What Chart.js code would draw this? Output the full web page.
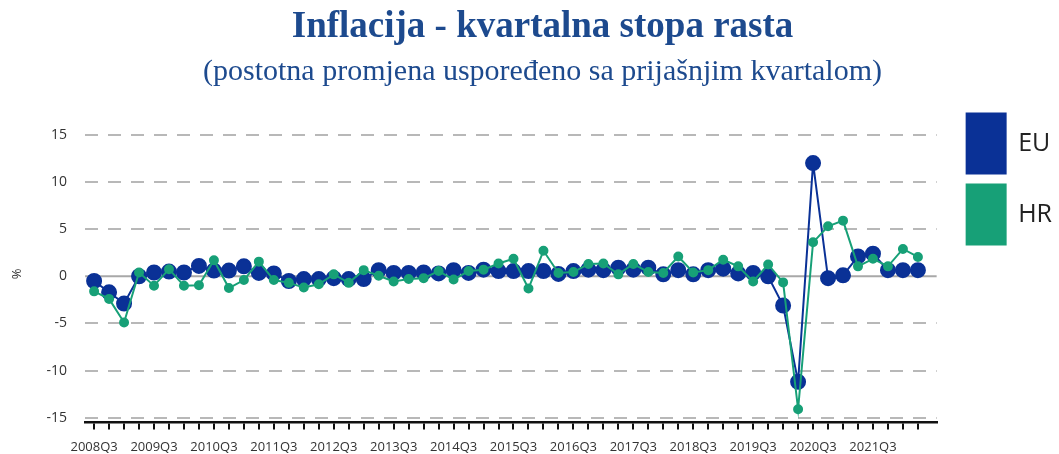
<!DOCTYPE html>
<html>
<head>
<meta charset="utf-8">
<script src="https://cdn.jsdelivr.net/npm/chart.js@4.4.1/dist/chart.umd.min.js"></script>
<style>
    body { margin: 0; background: #ffffff; }
</style>
</head>
<body>
<canvas id="chart" width="1059" height="454"></canvas>
<script>
"use strict"


const quarters =
[
    '2008Q3', '2008Q4', '2009Q1', '2009Q2', '2009Q3', '2009Q4', '2010Q1', '2010Q2',
    '2010Q3', '2010Q4', '2011Q1', '2011Q2', '2011Q3', '2011Q4', '2012Q1', '2012Q2',
    '2012Q3', '2012Q4', '2013Q1', '2013Q2', '2013Q3', '2013Q4', '2014Q1', '2014Q2',
    '2014Q3', '2014Q4', '2015Q1', '2015Q2', '2015Q3', '2015Q4', '2016Q1', '2016Q2',
    '2016Q3', '2016Q4', '2017Q1', '2017Q2', '2017Q3', '2017Q4', '2018Q1', '2018Q2',
    '2018Q3', '2018Q4', '2019Q1', '2019Q2', '2019Q3', '2019Q4', '2020Q1', '2020Q2',
    '2020Q3', '2020Q4', '2021Q1', '2021Q2', '2021Q3', '2021Q4', '2022Q1', '2022Q2'
];

const euValues =
[
    -0.5, -1.7, -2.9, 0.0, 0.4, 0.5, 0.4, 1.1,
    0.6, 0.6, 1.05, 0.35, 0.3, -0.5, -0.3, -0.3,
    -0.2, -0.3, -0.3, 0.65, 0.35, 0.35, 0.4, 0.3,
    0.65, 0.35, 0.7, 0.55, 0.55, 0.55, 0.55, 0.25,
    0.55, 0.7, 0.65, 0.9, 0.7, 0.9, 0.2, 0.65,
    0.2, 0.65, 0.8, 0.3, 0.35, 0.0, -3.1, -11.2,
    12.0, -0.2, 0.1, 2.1, 2.4, 0.65, 0.65, 0.65
];

const hrValues =
[
    -1.6, -2.4, -4.9, 0.4, -1.0, 0.75, -1.0, -0.95,
    1.7, -1.25, -0.4, 1.55, -0.4, -0.7, -1.2, -0.85,
    0.2, -0.7, 0.65, 0.05, -0.55, -0.3, -0.2, 0.55,
    -0.35, 0.55, 0.7, 1.35, 1.85, -1.3, 2.7, 0.35,
    0.45, 1.3, 1.35, 0.2, 1.3, 0.45, 0.35, 2.1,
    0.4, 0.65, 1.75, 1.05, -0.55, 1.25, -0.65, -14.1,
    3.6, 5.3, 5.9, 1.05, 1.85, 1.05, 2.9, 2.05
];

const yTicks = [-15, -10, -5, 0, 5, 10, 15];

const colors =
{
    eu: '#0a3196',
    hr: '#17a077',
    grid: '#b8b8b8',
    zero: '#a8a8a8',
    text: '#333333',
    title: '#1d4a8e'
};


// solid line at 0, the other y grid lines are dashed
const zeroLine =
{
    id: 'zeroLine',
    beforeDatasetsDraw(chart)
    {
        const { ctx, chartArea } = chart;
        const y = chart.scales.y.getPixelForValue(0);

        ctx.save();
        ctx.strokeStyle = colors.zero;
        ctx.lineWidth = 2;
        ctx.beginPath();
        ctx.moveTo(chartArea.left, y);
        ctx.lineTo(chartArea.right, y);
        ctx.stroke();
        ctx.restore();
    }
};


window.onload = () =>
{
    line();
}


function toPoints(values)
{
    return values.map((v, i) => ({ x: i, y: v }));
}


function line()
{
    const data =
    {
        datasets: [{
                    label: 'EU',
                    data: toPoints(euValues),
                    borderColor: colors.eu,
                    backgroundColor: colors.eu,
                    borderWidth: 2,
                    pointRadius: 7,
                    pointHoverRadius: 7,
                    tension: 0,
                    order: 1
                   },
                   {
                    label: 'HR',
                    data: toPoints(hrValues),
                    borderColor: colors.hr,
                    backgroundColor: colors.hr,
                    borderWidth: 2,
                    pointRadius: 4,
                    pointHoverRadius: 4,
                    tension: 0,
                    order: 0
                   }]
    };

    const config =
    {
        type: 'line',
        data: data,
        plugins: [zeroLine],
        options:
        {
            responsive: false,
            animation: false,
            devicePixelRatio: 1,
            layout: { padding: { left: 23, right: -3, bottom: -11, top: 0 } },
            scales:
            {
                x:
                {
                    type: 'linear',
                    min: -0.6,
                    max: 56.25,
                    afterBuildTicks: (scale) =>
                    {
                        scale.ticks = quarters.map((q, i) => ({ value: i }));
                    },
                    grid:
                    {
                        drawOnChartArea: false,
                        drawTicks: true,
                        tickLength: 7,
                        color: '#111111',
                        lineWidth: 2
                    },
                    border: { display: true, color: '#111111', width: 2.5 },
                    ticks:
                    {
                        autoSkip: false,
                        maxRotation: 0,
                        minRotation: 0,
                        padding: 10,
                        color: colors.text,
                        font: { family: 'Open Sans', size: 13 },
                        callback: (value) => value % 4 === 0 ? quarters[value] : ''
                    }
                },
                y:
                {
                    min: -15.5,
                    max: 16,
                    afterBuildTicks: (scale) =>
                    {
                        scale.ticks = yTicks.map(v => ({ value: v }));
                    },
                    grid:
                    {
                        drawTicks: false,
                        color: (ctx) => ctx.tick && ctx.tick.value === 0 ? 'rgba(0,0,0,0)' : colors.grid,
                        lineWidth: 2
                    },
                    border: { display: false, dash: [13, 10] },
                    ticks:
                    {
                        padding: 18,
                        color: colors.text,
                        font: { family: 'Open Sans', size: 14 }
                    },
                    title:
                    {
                        display: true,
                        text: '%',
                        color: colors.text,
                        font: { family: 'Open Sans', size: 13 },
                        padding: { top: -14, bottom: 4 }
                    }
                },
                // empty room between the plot and the legend
                spacer:
                {
                    type: 'linear',
                    position: 'right',
                    grid: { display: false },
                    border: { display: false },
                    ticks: { display: false },
                    afterFit: (scale) => { scale.width = 19; }
                }
            },
            plugins:
            {
                legend:
                {
                    position: 'right',
                    align: 'start',
                    title:
                    {
                        display: true,
                        text: ' ',
                        font: { size: 12 },
                        padding: { top: 0, bottom: 88 }
                    },
                    labels:
                    {
                        boxWidth: 39,
                        boxHeight: 60,
                        padding: 11,
                        color: '#222222',
                        font: { family: 'Open Sans', size: 25 },
                        sort: (a, b) => a.datasetIndex - b.datasetIndex
                    }
                },
                title:
                {
                    display: true,
                    text: 'Inflacija - kvartalna stopa rasta',
                    color: colors.title,
                    font: { family: 'Liberation Serif', size: 37, weight: 'bold' },
                    padding: { top: 5, bottom: 5 }
                },
                subtitle:
                {
                    display: true,
                    text: '(postotna promjena uspoređeno sa prijašnjim kvartalom)',
                    color: colors.title,
                    font: { family: 'Liberation Serif', size: 30 },
                    padding: { top: 0, bottom: 35 }
                },
                tooltip: { enabled: false }
            }
        }
    };

    var myChart = new Chart(document.getElementById('chart').getContext('2d'), config);
}
</script>
</body>
</html>
